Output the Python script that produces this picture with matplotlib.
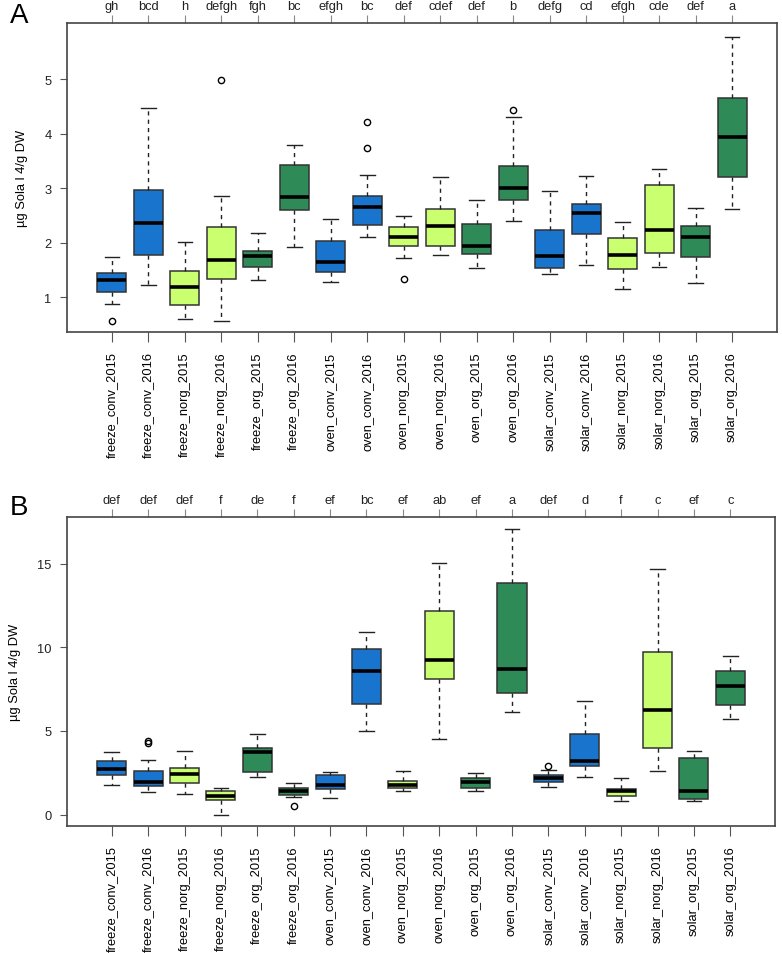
import matplotlib
matplotlib.use("Agg")
from matplotlib import pyplot as plt

plt.rcParams['font.family'] = ['Liberation Sans', 'DejaVu Sans']

# groups and colours
groups = ["freeze_conv_2015", "freeze_conv_2016", "freeze_norg_2015", "freeze_norg_2016",
          "freeze_org_2015", "freeze_org_2016", "oven_conv_2015", "oven_conv_2016",
          "oven_norg_2015", "oven_norg_2016", "oven_org_2015", "oven_org_2016",
          "solar_conv_2015", "solar_conv_2016", "solar_norg_2015", "solar_norg_2016",
          "solar_org_2015", "solar_org_2016"]
cols = {"conv": "#1874CD", "norg": "#CAFF70", "org": "#2E8B57"}

# panel A: whisker low, Q1, median, Q3, whisker high, outliers
a_letters = ["gh", "bcd", "h", "defgh", "fgh", "bc", "efgh", "bc", "def", "cdef",
             "def", "b", "defg", "cd", "efgh", "cde", "def", "a"]
a_wlo = [0.88, 1.23, 0.60, 0.57, 1.31, 1.92, 1.27, 2.11, 1.71, 1.77, 1.54, 2.39, 1.43, 1.58, 1.14, 1.55, 1.26, 2.61]
a_q1 = [1.09, 1.78, 0.86, 1.34, 1.55, 2.59, 1.46, 2.33, 1.93, 1.94, 1.79, 2.78, 1.54, 2.16, 1.52, 1.81, 1.74, 3.21]
a_med = [1.32, 2.36, 1.19, 1.68, 1.76, 2.83, 1.65, 2.66, 2.11, 2.31, 1.94, 3.00, 1.75, 2.54, 1.78, 2.23, 2.11, 3.93]
a_q3 = [1.45, 2.97, 1.47, 2.28, 1.85, 3.42, 2.03, 2.86, 2.29, 2.61, 2.35, 3.41, 2.24, 2.70, 2.09, 3.06, 2.31, 4.65]
a_whi = [1.73, 4.47, 2.02, 2.86, 2.18, 3.80, 2.44, 3.24, 2.49, 3.20, 2.78, 4.31, 2.94, 3.23, 2.37, 3.35, 2.63, 5.78]
a_out = [[0.56], [], [], [4.98], [], [], [], [4.21, 3.74], [1.34], [], [], [4.43], [], [], [], [], [], []]

# panel B
b_letters = ["def", "def", "def", "f", "de", "f", "ef", "bc", "ef", "ab",
             "ef", "a", "def", "d", "f", "c", "ef", "c"]
b_wlo = [1.77, 1.33, 1.24, 0.00, 2.23, 1.06, 1.00, 5.00, 1.39, 4.50, 1.39, 6.16, 1.67, 2.27, 0.82, 2.63, 0.82, 5.70]
b_q1 = [2.35, 1.71, 1.87, 0.86, 2.53, 1.20, 1.51, 6.59, 1.57, 8.11, 1.59, 7.29, 1.97, 2.91, 1.10, 4.00, 0.96, 6.53]
b_med = [2.75, 1.97, 2.41, 1.12, 3.75, 1.41, 1.77, 8.61, 1.79, 9.24, 1.97, 8.69, 2.19, 3.23, 1.39, 6.24, 1.39, 7.67]
b_q3 = [3.19, 2.59, 2.79, 1.43, 3.98, 1.61, 2.37, 9.90, 2.01, 12.17, 2.19, 13.82, 2.35, 4.80, 1.51, 9.70, 3.37, 8.61]
b_whi = [3.76, 3.25, 3.80, 1.57, 4.80, 1.87, 2.57, 10.90, 2.61, 15.02, 2.47, 17.07, 2.67, 6.77, 2.17, 14.70, 3.80, 9.50]
b_out = [[], [4.27, 4.42], [], [], [], [0.54], [], [], [], [], [], [], [2.93], [], [], [], [], []]


def panel(ax, letters, wlo, q1, med, q3, whi, out, ylim, yticks):
    stats = []
    for i in range(len(groups)):
        stats.append(dict(whislo=wlo[i], q1=q1[i], med=med[i], q3=q3[i],
                          whishi=whi[i], fliers=out[i]))
    pos = list(range(1, len(groups) + 1))
    bp = ax.bxp(stats, positions=pos, widths=0.8, patch_artist=True, capwidths=0.4,
                boxprops=dict(edgecolor="#333333", linewidth=1.1),
                medianprops=dict(color="black", linewidth=2.6),
                whiskerprops=dict(color="#222222", linewidth=1.0, linestyle=(0, (3, 3))),
                capprops=dict(color="#222222", linewidth=1.0),
                flierprops=dict(marker="o", markersize=4.5, markerfacecolor="none",
                                markeredgecolor="black", markeredgewidth=1.0))
    for patch, g in zip(bp["boxes"], groups):
        patch.set_facecolor(cols[g.split("_")[1]])
    ax.set_xlim(-0.23, 19.23)
    ax.set_ylim(*ylim)
    ax.set_yticks(yticks)
    ax.set_xticks(pos)
    ax.set_xticklabels(groups, rotation=90)
    ax.tick_params(axis="x", length=7, pad=7, labelsize=9.3, colors="#555555", labelcolor="black")
    ax.tick_params(axis="y", length=5, pad=6, labelsize=9.3, colors="#555555", labelcolor="#222222")
    ax.set_ylabel("µg Sola l 4/g DW", fontsize=9.3, labelpad=12)
    for s in ax.spines.values():
        s.set_color("#444444")
        s.set_linewidth(1.2)
    top = ax.secondary_xaxis("top")
    top.set_xticks(pos)
    top.set_xticklabels(letters)
    top.tick_params(length=6, pad=2, labelsize=9.3, colors="#888888", labelcolor="#222222")
    top.spines["top"].set_visible(False)


fig = plt.figure(figsize=(7.82, 9.54), dpi=100)
ax1 = fig.add_axes([0.0857, 0.651, 0.9079, 0.3238])
ax2 = fig.add_axes([0.0857, 0.1331, 0.9054, 0.3239])

panel(ax1, a_letters, a_wlo, a_q1, a_med, a_q3, a_whi, a_out, (0.36, 6.03), [1, 2, 3, 4, 5])
panel(ax2, b_letters, b_wlo, b_q1, b_med, b_q3, b_whi, b_out, (-0.68, 17.78), [0, 5, 10, 15])

fig.text(19 / 782, 1 - 16 / 954, "A", fontsize=20, ha="center", va="center")
fig.text(19 / 782, 1 - 508 / 954, "B", fontsize=20, ha="center", va="center")

fig.savefig("out.png", dpi=100)
